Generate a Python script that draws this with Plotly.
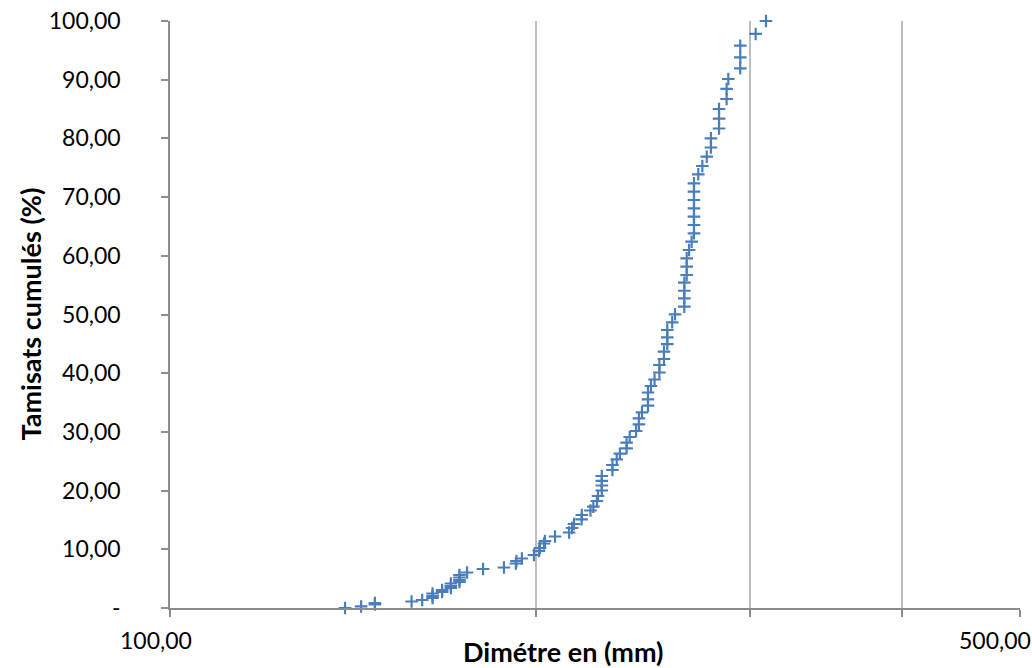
import numpy as np
import plotly.graph_objects as go

# Diameter (mm) and cumulative passing (%)
diametre = [139.3, 143.6, 147.4, 147.4, 158.0, 161.2, 164.4, 164.4, 164.4, 167.4,
            167.4, 170.2, 170.2, 170.2, 173.0, 173.0, 173.0, 173.0, 175.5, 180.9,
            188.2, 192.5, 192.7, 194.7, 199.2, 201.1, 201.5, 203.0, 203.4, 207.3,
            212.9, 214.1, 214.9, 218.0, 218.1, 221.7, 222.9, 224.4, 224.9, 226.5,
            226.5, 226.5, 226.5, 231.1, 231.1, 233.0, 234.4, 237.4, 237.4, 238.8,
            241.7, 243.0, 243.0, 244.4, 247.2, 247.2, 247.2, 248.6, 250.3, 252.6,
            252.6, 254.8, 254.8, 256.4, 256.4, 256.4, 258.8, 260.2, 264.8, 264.8,
            264.8, 264.8, 266.0, 266.0, 266.0, 267.2, 268.5, 269.7, 269.7, 269.7,
            269.7, 269.7, 269.7, 269.7, 271.9, 274.0, 276.3, 278.5, 278.5, 282.8,
            282.8, 282.8, 286.9, 286.9, 287.8, 294.4, 294.4, 294.4, 303.1, 309.1]
tamisats = [0.00, 0.26, 0.60, 0.85, 1.11, 1.36, 1.70, 2.04, 2.47, 2.73,
            3.07, 3.41, 3.75, 4.17, 4.43, 4.77, 5.20, 5.62, 6.05, 6.64,
            6.90, 7.58, 8.01, 8.43, 9.03, 9.71, 10.22, 10.99, 11.41, 12.18,
            12.86, 13.63, 14.31, 15.11, 15.84, 16.61, 17.26, 18.23, 19.08, 20.02,
            20.87, 21.64, 22.49, 23.51, 24.36, 25.33, 26.29, 27.21, 28.16, 29.13,
            30.15, 31.29, 32.32, 33.34, 34.46, 35.55, 36.71, 37.82, 38.93, 40.12,
            41.40, 42.42, 43.66, 44.97, 46.12, 47.36, 48.67, 50.03, 51.33, 52.76,
            54.05, 55.42, 56.73, 58.14, 59.57, 60.99, 62.40, 63.83, 65.25, 66.66,
            68.09, 69.51, 70.92, 72.35, 73.88, 75.30, 76.88, 78.45, 80.02, 81.69,
            83.36, 85.01, 86.71, 88.42, 90.12, 91.94, 93.82, 95.79, 97.79, 100.00]

y_ticks = list(range(0, 101, 10))
y_ticktext = ["-" if v == 0 else f"{v:.2f}".replace(".", ",") for v in y_ticks]
x_ticks = [100, 200, 300, 400, 500]
x_labels = {100: "100,00", 500: "500,00"}
x_title = "Dimétre en (mm)"
y_title = "Tamisats cumulés (%)"

FONT = "Lato, Carlito, Calibri, sans-serif"
GRID = "#BEBEBE"
AXIS = "#8C8C8C"
BLUE = "#4A7EBB"

fig = go.Figure()
fig.add_trace(go.Scatter(
    x=diametre, y=tamisats, mode="markers", cliponaxis=False,
    marker=dict(symbol="cross-thin", size=9, line=dict(color=BLUE, width=2.2), color=BLUE),
    showlegend=False, hoverinfo="x+y",
))

fig.update_layout(
    width=1032, height=668,
    margin=dict(l=170, r=12, t=21, b=60, autoexpand=False),
    paper_bgcolor="white", plot_bgcolor="white",
    font=dict(family=FONT, size=23, color="#000000"),
    xaxis=dict(
        type="log", range=[np.log10(100), np.log10(500)],
        tickvals=x_ticks, ticktext=["" for _ in x_ticks],
        showgrid=True, gridcolor=GRID, gridwidth=1.5,
        showline=True, linecolor=AXIS, linewidth=1.5,
        ticks="outside", ticklen=7, tickcolor=AXIS, tickwidth=1.5,
        zeroline=False, automargin=False,
    ),
    yaxis=dict(
        range=[0, 100], tickvals=y_ticks, ticktext=y_ticktext,
        showgrid=False, zeroline=False,
        showline=True, linecolor=AXIS, linewidth=1.5,
        ticks="outside", ticklen=7, tickcolor=AXIS, tickwidth=1.5,
        ticklabelstandoff=36, ticklabeloverflow="allow", automargin=False,
    ),
)

# x tick labels (only at the ends, as in the original)
shifts = {100: -14, 500: -25}
for v, txt in x_labels.items():
    fig.add_annotation(x=np.log10(v), y=0, xref="x", yref="paper", text=txt,
                       showarrow=False, xanchor="center", yanchor="middle",
                       xshift=shifts[v], yshift=-32, font=dict(size=23, family=FONT))

# axis titles
fig.add_annotation(x=0.462, y=0, xref="paper", yref="paper", text=f"<b>{x_title}</b>",
                   showarrow=False, xanchor="center", yanchor="middle", yshift=-43,
                   font=dict(size=27, family=FONT))
fig.add_annotation(x=0, y=0.5, xref="paper", yref="paper", text=f"<b>{y_title}</b>",
                   showarrow=False, xanchor="center", yanchor="middle", xshift=-140,
                   textangle=-90, font=dict(size=27, family=FONT))

fig.write_html("out.html", config={"displayModeBar": False},
               post_script="document.body.style.margin='0px';")
